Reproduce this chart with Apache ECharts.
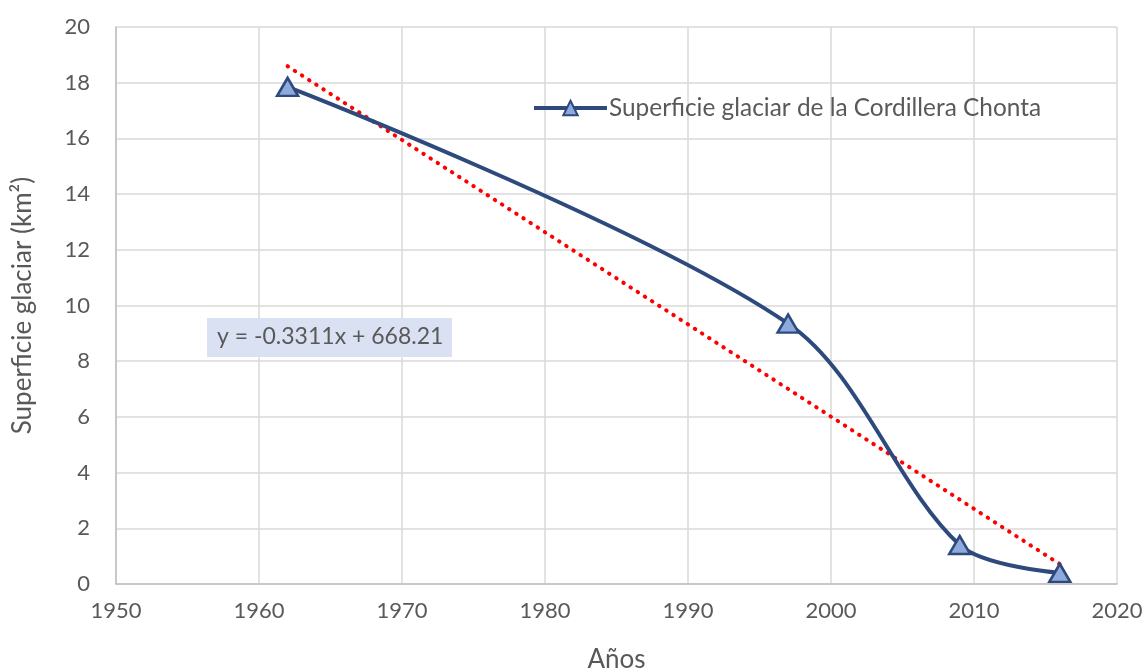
<!DOCTYPE html>
<html>
<head>
<meta charset="utf-8">
<script src="https://cdn.jsdelivr.net/npm/echarts@6/dist/echarts.min.js"></script>
<style>
  html, body { margin: 0; padding: 0; background: #fff; }
  #chart { width: 1146px; height: 671px; }
</style>
</head>
<body>
<div id="chart"></div>
<script>
// Glacier surface of the Cordillera Chonta, by year of survey
const years = [1962, 1997, 2009, 2016];
const areaKm2 = [17.85, 9.35, 1.4, 0.4];

// Linear trend stated on the chart: y = slope * x + intercept
const trendSlope = -0.3311;
const trendIntercept = 668.21;
const trendYears = [1962, 2016];

const xTicks = [1950, 1960, 1970, 1980, 1990, 2000, 2010, 2020];
const yTicks = [0, 2, 4, 6, 8, 10, 12, 14, 16, 18, 20];

const seriesName = 'Superficie glaciar de la Cordillera Chonta';
const equationText = 'y = -0.3311x + 668.21';

const font = 'Lato, "Open Sans", sans-serif';
const textColor = '#595959';

const chart = echarts.init(document.getElementById('chart'), null, { renderer: 'canvas' });

chart.setOption({
  animation: false,
  backgroundColor: '#ffffff',
  textStyle: { fontFamily: font },
  grid: { left: 116, right: 29, top: 27, bottom: 87, containLabel: false, outerBoundsMode: 'none' },
  legend: {
    data: [seriesName],
    left: 527,
    top: 91,
    itemWidth: 73,
    itemHeight: 18,
    itemGap: 8,
    lineStyle: { width: 4, color: '#2E4A7D' },
    textStyle: { fontFamily: font, fontSize: 24.4, color: textColor, padding: [0, 0, 0, -3] }
  },
  xAxis: {
    type: 'value',
    min: xTicks[0],
    max: xTicks[xTicks.length - 1],
    interval: 10,
    name: 'Años',
    nameLocation: 'middle',
    nameGap: 63,
    nameTextStyle: { fontFamily: font, fontSize: 26, color: textColor },
    axisLine: { show: true, lineStyle: { color: '#BFBFBF', width: 1.5 } },
    axisTick: { show: false },
    axisLabel: { margin: 16, fontSize: 22, color: textColor, fontFamily: font, formatter: v => String(v) },
    splitLine: { show: true, lineStyle: { color: '#D9D9D9', width: 1.5 } }
  },
  yAxis: {
    type: 'value',
    min: yTicks[0],
    max: yTicks[yTicks.length - 1],
    interval: 2,
    name: 'Superficie glaciar (km²)',
    nameLocation: 'middle',
    nameGap: 80,
    nameTextStyle: { fontFamily: font, fontSize: 26, color: textColor },
    axisLine: { show: true, lineStyle: { color: '#BFBFBF', width: 1.5 } },
    axisTick: { show: false },
    axisLabel: { margin: 26, fontSize: 22, color: textColor, fontFamily: font },
    splitLine: { show: true, lineStyle: { color: '#D9D9D9', width: 1.5 } }
  },
  series: [
    {
      name: 'Tendencia lineal',
      type: 'line',
      data: trendYears.map(x => [x, trendSlope * x + trendIntercept]),
      symbol: 'none',
      lineStyle: { color: '#FF0000', width: 4, type: [0.5, 8], cap: 'round' },
      z: 2,
      silent: true
    },
    {
      name: seriesName,
      type: 'line',
      data: years.map((y, i) => [y, areaKm2[i]]),
      smooth: 0.32,
      symbol: 'triangle',
      symbolSize: [21, 18],
      lineStyle: { color: '#2E4A7D', width: 4 },
      itemStyle: { color: '#8EA9DB', borderColor: '#2E4A7D', borderWidth: 2.5 },
      z: 3
    }
  ],
  graphic: [
    {
      type: 'rect',
      left: 207,
      top: 318,
      shape: { width: 245, height: 39 },
      style: { fill: '#D9E1F2' },
      z: 10
    },
    {
      type: 'text',
      left: 217,
      top: 325,
      style: { text: equationText, fontFamily: font, fontSize: 23, fill: textColor },
      z: 11
    }
  ]
});
</script>
</body>
</html>
